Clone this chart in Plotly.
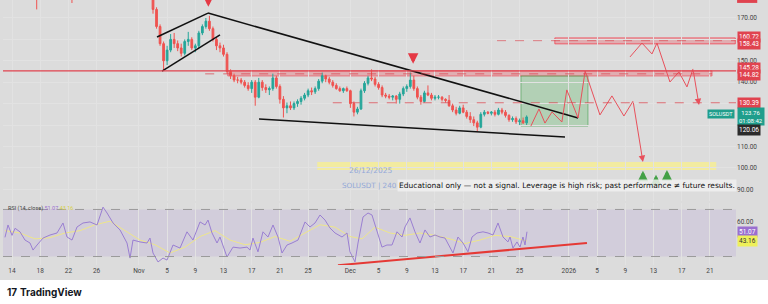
import pandas as pd
import plotly.graph_objects as go

BASE = pd.Timestamp("2025-10-14")


def D(d):
    return (BASE + pd.Timedelta(days=d)).round("s")


# ---------------- data ----------------
# October daily candles (mostly above the visible window)
oct_open = [198, 207, 200, 194, 187, 185, 189, 187, 191, 184, 181, 190, 194, 195, 199, 198, 196, 195, 185, 187, 186]
oct_high = [210, 209, 204, 198, 190, 192, 194, 195, 198, 186, 192, 196, 196, 201, 205, 204, 200, 196, 190, 189, 188]
oct_low = [196, 190, 192, 185, 174, 183, 185, 186, 180, 177, 180, 188, 191, 193, 196, 194, 192, 183, 181, 183, 181]
oct_close = [207, 200, 194, 187, 185, 189, 187, 191, 184, 181, 190, 194, 195, 199, 198, 196, 195, 185, 187, 186, 184]

# 12h candles from 3 Nov 2025
h12_close = [174, 166, 158, 150, 155, 160, 158, 156, 153.5, 159, 160, 156, 157, 163, 166, 168.5, 165, 160, 157, 156,
             153, 145, 143, 141, 141, 140, 138.5, 137, 140, 133, 140, 137.5, 136.5, 137, 142, 138, 132, 128, 129, 128,
             130, 131, 132.5, 134, 136, 135.5, 137, 140.5, 143, 141.5, 140, 138.5, 137, 136, 137, 136, 130, 126, 127.5, 136,
             139.5, 142, 141.5, 139, 137.5, 134, 133.5, 133, 133.5, 132, 134.5, 137, 138, 141, 137, 133, 131, 135, 134, 132.5,
             133, 133, 132, 131.5, 129, 127, 125.5, 128, 126, 124, 122.5, 121, 119, 125, 126, 125.5, 126, 125, 127, 126,
             124.5, 122.5, 123, 121.5, 122, 121, 123.76]
h12_high = [185, 175, 167, 159, 157, 162.5, 163, 159.5, 158, 160, 163.5, 161, 158, 164, 167, 170, 171, 166, 161, 158.5,
            157.5, 154, 146, 144, 142.5, 142, 141, 140, 141, 141, 142, 141, 139, 138, 144, 143, 139, 133.5, 130.5, 131,
            131, 132, 133.5, 135, 137, 137.5, 138, 141.5, 144.5, 143.5, 142.5, 141, 139.5, 138, 137.5, 138, 136.5, 131, 128.5, 137,
            140.5, 143, 146, 142.5, 140, 138.5, 135, 134.5, 134, 134, 135.5, 138, 139, 144.5, 143, 138, 134, 136, 138.5, 135,
            134, 134, 133.5, 132.5, 134, 130, 128.5, 129, 129.5, 127, 126, 124, 122, 126, 127, 126.5, 126.5, 127, 128, 128,
            127, 125, 124, 124, 123, 123.5, 124.5]
h12_low = [172, 165, 157, 145.5, 148, 154, 156, 154.5, 152, 152.5, 157, 155, 154, 156, 162, 165, 164, 159, 155, 154,
           152, 144, 141.5, 140, 139.5, 139, 137.5, 136, 135, 129, 132.5, 136, 135, 134, 136, 137, 130, 123.5, 125.5, 127,
           127, 128.5, 129.5, 131.5, 133, 134, 134.5, 136, 139.5, 140, 139, 137.5, 136.5, 135.5, 135, 135.5, 128, 124, 125, 127,
           135, 138.5, 140.5, 138, 136.5, 133, 132.5, 132, 131.5, 130, 130, 133.5, 135.5, 137, 136, 132, 129.5, 130.5, 133.5, 131.5,
           131.5, 132, 131, 130.5, 128.5, 126, 124.5, 125, 125.5, 123, 121, 119.5, 117, 118.5, 124, 125, 124.5, 124, 124.5, 125,
           123.5, 121.5, 121.5, 120.5, 120, 120.5, 120]

# RSI (14, close): days after 14 Oct 2025, value
rsi_day = [-1.0, -0.57, 0, 0.43, 1.13, 1.84, 2.55, 2.98, 3.55, 4.40, 5.39, 6.38, 7.23, 7.80, 8.51, 9.22, 10.07, 11.06,
           12.06, 12.91, 13.48, 14.33, 15.32, 16.31, 16.74, 17.16, 18.16, 19.15, 19.57, 20.0, 20.71, 21.42, 21.99, 22.84,
           23.83, 24.82, 25.67, 26.67, 27.38, 27.80, 28.37, 29.08, 29.50, 30.50, 31.35, 32.34, 33.33, 33.76, 34.18, 34.89,
           35.60, 36.31, 37.02, 37.73, 38.30, 39.01, 39.72, 40.57, 41.56, 42.27, 42.98, 43.69, 44.40, 45.11, 45.82, 46.81,
           47.52, 47.94, 48.65, 49.08, 49.79, 50.50, 51.06, 51.77, 52.48, 53.19, 53.90, 54.61, 55.32, 55.74, 56.45, 57.16,
           57.87, 58.58, 59.29, 60.0, 60.71, 61.42, 62.13, 62.55, 63.26, 63.97, 64.68, 65.25, 65.96, 66.81, 67.52, 68.23,
           68.94, 69.65, 70.35, 70.64, 71.06, 71.63, 72.06, 72.48, 72.77, 73.05]
rsi_val = [46.3, 56.8, 48, 54, 51, 44, 41.5, 35.5, 39.8, 45.7, 48.3, 50, 58.5, 46.6, 44, 55.1, 58.5, 59.4, 56.8, 72,
           67, 58.5, 52.6, 41.5, 28.7, 44, 42.4, 41.5, 45.7, 33, 25.4, 28.7, 27, 39.8, 37.2, 51, 44, 59.4, 56.8, 61,
           50, 41.5, 46.6, 29.6, 38, 37.2, 38, 35.5, 45.7, 34, 51, 46.6, 56.8, 46.6, 33, 39.8, 41.5, 44, 59.4, 55.1,
           58.5, 65.3, 61, 54.2, 50, 46.6, 50, 34, 25.4, 41.5, 63.6, 67, 65.3, 52.6, 38, 39.8, 39.8, 51, 46.6, 55.1,
           62.8, 51, 41.5, 52.6, 46.6, 48.3, 46.6, 45.7, 37.2, 33, 46.6, 41.5, 34, 46.6, 50, 51, 50, 48.3, 58.5, 46.6,
           42.4, 46.6, 37.2, 42.4, 38, 46.6, 39.8, 51.07]
ma_day = [-1.0, 1.13, 3.26, 5.39, 7.52, 9.65, 11.77, 13.9, 16.03, 18.16, 20.28, 22.41, 24.54, 26.67, 28.79, 30.92,
          33.05, 35.18, 37.3, 39.43, 41.56, 43.69, 45.82, 47.94, 49.65, 51.49, 53.62, 55.74, 57.87, 60.0, 62.13, 64.26,
          66.38, 68.51, 70.64, 73.05]
ma_val = [52, 50, 45, 46, 50, 52, 57, 60, 52, 44, 40, 33, 38, 47, 52, 44, 40, 42, 47, 43, 50, 57, 55, 47, 45, 55,
          50, 48, 50, 48, 45, 41, 44, 48, 47, 43.16]

# drawings (days after 14 Oct, price)
resist_day, resist_px = [27.8, 80.3], [172.3, 123.3]
support_day, support_px = [35.04, 78.44], [122.8, 114.4]
wedge_top_day, wedge_top_px = [20.57, 27.8], [161.1, 172.3]
wedge_bot_day, wedge_bot_px = [21.28, 29.5], [145.2, 162.1]
zig1_day = [73.6, 74.75, 75.6, 76.6, 78.0, 78.7, 80.3, 81.3, 83.4, 85.1, 86.8, 88.1, 89.5]
zig1_px = [119.5, 127.5, 120.9, 126.1, 121.4, 136.4, 123.3, 145.2, 124.7, 133.6, 124.2, 131.2, 102.7]
zig2_day = [87.66, 89.36, 90.78, 91.49, 93.33, 94.6, 95.74, 96.6, 97.45]
zig2_px = [151.8, 158.3, 153.2, 158.3, 140.1, 144.8, 137.8, 146.2, 129.3]
rsi_trend_day, rsi_trend_val = [46.24, 81.56], [22.6, 41.5]
sell_day, sell_px = [27.85, 56.9], [175.2, 148.6]
buy_day, buy_px = [89.5, 91.35, 92.9], [98.6, 96.8, 99.0]

price_levels = {"r_top": 160.72, "r_top2": 158.43, "r_mid": 145.28, "r_mid2": 144.82, "tp": 130.39,
                "last": 123.76, "low": 120.06}

GRID = "#e2e2e2"
RED = "#e8505b"
TEAL = "#26a69a"

# ---------------- figure ----------------
fig = go.Figure()

cx = list(pd.date_range("2025-10-13 12:00", periods=len(oct_close), freq="D")) + \
     list(pd.date_range("2025-11-03 00:00", periods=len(h12_close), freq="12h"))
c_open = oct_open + [oct_close[-1]] + h12_close[:-1]
c_high = oct_high + h12_high
c_low = oct_low + h12_low
c_close = oct_close + h12_close

fig.add_trace(go.Candlestick(
    x=cx, open=c_open, high=c_high, low=c_low, close=c_close,
    increasing=dict(line=dict(color=TEAL, width=1), fillcolor=TEAL),
    decreasing=dict(line=dict(color="#ef5350", width=1), fillcolor="#ef5350"),
    whiskerwidth=0, xaxis="x", yaxis="y", hoverinfo="skip"))


def line(days, vals, color, width=1.4, axis=("x", "y"), dash=None):
    fig.add_trace(go.Scatter(x=[D(d) for d in days], y=vals, mode="lines",
                             line=dict(color=color, width=width, dash=dash),
                             xaxis=axis[0], yaxis=axis[1], hoverinfo="skip"))


line(resist_day, resist_px, "#111111", 1.5)
line(support_day, support_px, "#111111", 1.5)
line(wedge_top_day, wedge_top_px, "#111111", 1.5)
line(wedge_bot_day, wedge_bot_px, "#111111", 1.5)
line(zig1_day[:-1], zig1_px[:-1], RED, 1)
line(zig2_day[:-1], zig2_px[:-1], RED, 1)

# RSI
line(ma_day, ma_val, "#eee68a", 1, axis=("x2", "y2"))
line(rsi_day, rsi_val, "#9a7fd2", 1, axis=("x2", "y2"))
line(rsi_trend_day, rsi_trend_val, "#e53935", 2, axis=("x2", "y2"))

shapes = []
# price-pane zones
shapes.append(dict(type="rect", xref="x", yref="y", x0=D(30.6), x1=D(99.3), y0=142.9, y1=145.3,
                   fillcolor="rgba(242,54,69,0.28)", line=dict(color="rgba(242,54,69,0.55)", width=1), layer="below"))
shapes.append(dict(type="line", xref="x", yref="y", x0=D(27.4), x1=D(99.3), y0=143.9, y1=143.9,
                   line=dict(color="rgba(220,60,70,0.7)", width=1, dash="dash")))
shapes.append(dict(type="line", xref="paper", yref="y", x0=0, x1=1, y0=price_levels["r_mid"], y1=price_levels["r_mid"],
                   line=dict(color="#e0434f", width=1.3)))
shapes.append(dict(type="rect", xref="x", yref="y", x0=D(77.0), x1=D(102.6), y0=157.9, y1=160.7,
                   fillcolor="rgba(242,54,69,0.28)", line=dict(color="rgba(242,54,69,0.7)", width=1), layer="below"))
shapes.append(dict(type="line", xref="x", yref="y", x0=D(68.8), x1=D(102.6), y0=159.4, y1=159.4,
                   line=dict(color="rgba(220,60,70,0.6)", width=1, dash="dash")))
shapes.append(dict(type="line", xref="x", yref="y", x0=D(45.5), x1=D(102.7), y0=price_levels["tp"], y1=price_levels["tp"],
                   line=dict(color="rgba(220,60,70,0.7)", width=1, dash="dash")))
shapes.append(dict(type="rect", xref="x", yref="y", x0=D(72.2), x1=D(81.7), y0=119.5, y1=142.9,
                   fillcolor="rgba(90,185,100,0.32)", line=dict(color="rgba(70,160,80,0.6)", width=1), layer="below"))
shapes.append(dict(type="rect", xref="x", yref="y", x0=D(43.3), x1=D(99.9), y0=99.0, y1=102.7,
                   fillcolor="rgba(250,240,140,0.75)", line=dict(width=0), layer="below"))
# RSI band
shapes.append(dict(type="rect", xref="paper", yref="y2", x0=0, x1=1, y0=30, y1=70,
                   fillcolor="rgba(160,130,215,0.16)", line=dict(width=0), layer="below"))
for lv in (70, 30):
    shapes.append(dict(type="line", xref="paper", yref="y2", x0=0, x1=1, y0=lv, y1=lv,
                       line=dict(color="#9a9a9a", width=1, dash="dash")))
# partially visible price tag at the very top of the axis (cut off by the frame)
shapes.append(dict(type="rect", xref="paper", yref="paper", x0=1.0015, x1=1.029, y0=0.989, y1=1.02,
                   fillcolor="#e0434f", line=dict(width=0), layer="above"))
# white footer
shapes.append(dict(type="rect", xref="paper", yref="paper", x0=-0.01, x1=1.06, y0=-0.16, y1=-0.057,
                   fillcolor="white", line=dict(width=0), layer="above"))

ann = []
# zigzag arrowheads
ann.append(dict(x=D(zig1_day[-1]), y=zig1_px[-1], ax=D(zig1_day[-2]), ay=zig1_px[-2], xref="x", yref="y",
                axref="x", ayref="y", showarrow=True, arrowhead=2, arrowsize=1.3, arrowwidth=1, arrowcolor=RED, text=""))
ann.append(dict(x=D(zig2_day[-1]), y=zig2_px[-1], ax=D(zig2_day[-2]), ay=zig2_px[-2], xref="x", yref="y",
                axref="x", ayref="y", showarrow=True, arrowhead=2, arrowsize=1.3, arrowwidth=1, arrowcolor=RED, text=""))
for d, p in zip(sell_day, sell_px):
    ann.append(dict(x=D(d), y=p, xref="x", yref="y", ax=0, ay=-8, showarrow=True, arrowhead=2,
                    arrowsize=0.7, arrowwidth=3, arrowcolor="#e53945", text=""))
for d, p in zip(buy_day, buy_px):
    ann.append(dict(x=D(d), y=p, xref="x", yref="y", ax=0, ay=8, showarrow=True, arrowhead=2,
                    arrowsize=0.7, arrowwidth=3, arrowcolor="#43a047", text=""))

AX = dict(family="Roboto, Arial", size=6.5)


def tag(price, text, bg, fg="white", yshift=0, yref="y", size=6.5):
    ann.append(dict(x=1, xref="paper", xanchor="left", xshift=1, y=price, yref=yref, yanchor="middle",
                    yshift=yshift, text=text, showarrow=False, bgcolor=bg, borderpad=1,
                    font=dict(AX, size=size, color=fg)))


tag(price_levels["r_top"], "160.72", "#e0434f", yshift=1)
tag(price_levels["r_top2"], "158.43", "#e0434f", yshift=-1)
tag(price_levels["r_mid"], "145.28", "#e0434f", yshift=3)
tag(price_levels["r_mid2"], "144.82", "#e0434f", yshift=-3)
tag(price_levels["tp"], "130.39", "#e0434f")
tag(price_levels["last"], "123.76<br>01:08:42", "#1f9e8c", yshift=0, size=6)
tag(price_levels["low"], "120.06", "#2b2b2b", yshift=-5)
ann.append(dict(x=1, xref="paper", xanchor="right", xshift=-1, y=price_levels["last"], yref="y", yanchor="middle",
                yshift=3, text="SOLUSDT", showarrow=False, bgcolor="#1f9e8c", borderpad=1,
                font=dict(AX, size=5.5, color="white")))
tag(51.07, "51.07", "#9a6fd0", yref="y2")
tag(43.16, "43.16", "#eef05a", fg="#333", yref="y2")

# texts
ann.append(dict(x=0.5007, y=0.332, xref="paper", yref="paper", text="26/12/2025", showarrow=False,
                font=dict(family="DejaVu Sans", size=7.5, color="#93a8d8")))
ann.append(dict(x=0.4598, y=0.2755, xref="paper", yref="paper", xanchor="left", text="SOLUSDT | 240",
                showarrow=False, font=dict(family="DejaVu Sans", size=7.2, color="#93a8d8")))
ann.append(dict(x=0.5375, y=0.2755, xref="paper", yref="paper", xanchor="left",
                text="Educational only — not a signal. Leverage is high risk; past performance ≠ future results.",
                showarrow=False, bgcolor="rgba(240,240,240,0.85)", borderpad=1,
                font=dict(family="DejaVu Sans", size=7.5, color="#111")))
ann.append(dict(x=0.004, y=0.215, xref="paper", yref="paper", xanchor="left", yanchor="middle", showarrow=False,
                text="RSI (14, close) <span style='color:#9a6fd0'>51.07</span> <span style='color:#d6d04a'>43.16</span>",
                font=dict(family="Roboto, Arial", size=5.5, color="#444")))
ann.append(dict(x=0.003, y=-0.102, xref="paper", yref="paper", xanchor="left", yanchor="middle", showarrow=False,
                text="<b>17</b> <b>TradingView</b>",
                font=dict(family="Inter, Roboto", size=10, color="#131722")))

# date ticks
tick_dates = ["2025-10-14", "2025-10-18", "2025-10-22", "2025-10-26", "2025-11-01", "2025-11-05", "2025-11-09",
              "2025-11-13", "2025-11-17", "2025-11-21", "2025-11-25", "2025-12-01", "2025-12-05", "2025-12-09",
              "2025-12-13", "2025-12-17", "2025-12-21", "2025-12-25", "2026-01-01", "2026-01-05", "2026-01-09",
              "2026-01-13", "2026-01-17", "2026-01-21"]
tick_text = ["14", "18", "22", "26", "Nov", "5", "9", "13", "17", "21", "25", "Dec", "5", "9", "13", "17", "21",
             "25", "2026", "5", "9", "13", "17", "21"]
price_ticks = [90, 100, 110, 120, 130, 140, 150, 160, 170]
price_text = ["90.00", "100.00", "110.00", "", "", "140.00", "150.00", "", "170.00"]

xr = [D(-1.28), D(102.7)]
fig.update_layout(
    width=768, height=304, margin=dict(l=3, r=32, t=0, b=39),
    paper_bgcolor="#dcdcdc", plot_bgcolor="#dcdcdc", showlegend=False,
    shapes=shapes, annotations=ann,
    xaxis=dict(domain=[0, 1], anchor="y", type="date", range=xr, tickvals=tick_dates, showticklabels=False,
               showgrid=True, gridcolor=GRID, zeroline=False, showline=False, rangeslider=dict(visible=False)),
    yaxis=dict(domain=[0.2415, 1], anchor="x", range=[84.5, 178.4], side="right", tickvals=price_ticks,
               ticktext=price_text, tickfont=dict(AX, color="#444"), showgrid=True, gridcolor=GRID,
               zeroline=False, ticks=""),
    xaxis2=dict(domain=[0, 1], anchor="y2", type="date", range=xr, tickvals=tick_dates, ticktext=tick_text,
                tickfont=dict(AX, color="#444"), showgrid=True, gridcolor=GRID, zeroline=False, ticks=""),
    yaxis2=dict(domain=[0, 0.234], anchor="x2", range=[22.8, 75.5], side="right", tickvals=[60],
                ticktext=["60.00"], tickfont=dict(AX, color="#444"), showgrid=False, zeroline=False, ticks=""),
)

fig.write_html("out.html")
